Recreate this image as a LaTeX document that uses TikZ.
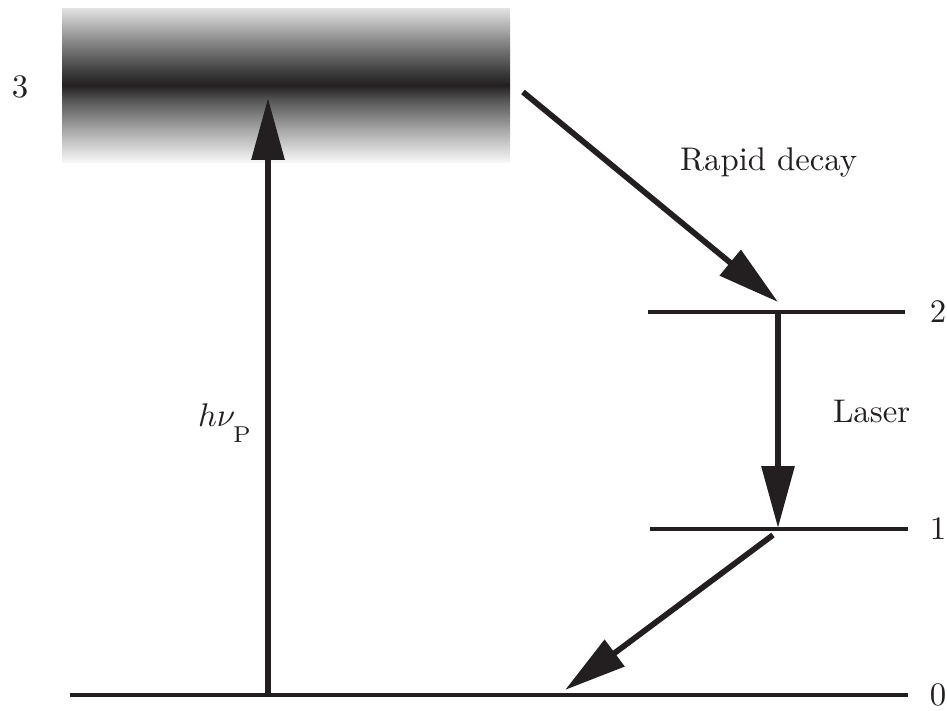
\documentclass[tikz,border=0pt]{standalone}
\usetikzlibrary{arrows.meta}
\definecolor{ink}{RGB}{35,31,32}
\pgfdeclareverticalshading{bandshade}{100bp}{%
  color(0bp)=(black!3);
  color(25bp)=(black!3);
  color(35bp)=(black!33);
  color(45bp)=(black!66);
  color(50bp)=(ink);
  color(55bp)=(black!74);
  color(65bp)=(black!44);
  color(75bp)=(black!11);
  color(100bp)=(black!11)}
\tikzset{
  level/.style={draw=ink, line width=1.05pt},
  trans/.style={draw=ink, line width=1.75pt,
    -{Triangle[length=18.9pt, width=9.8pt]}},
  lab/.style={inner sep=0pt, outer sep=0pt, text=ink, font=\normalsize}
}
\begin{document}
\begin{tikzpicture}[x=0.305pt, y=-0.305pt]
\useasboundingbox (0,0) rectangle (947,711);
% band of level 3
\shade[shading=bandshade] (62,8) rectangle (510,162);
% coordinates
\coordinate (l0a) at (70,695);  \coordinate (l0b) at (908,695);
\coordinate (l1a) at (650,529); \coordinate (l1b) at (908,529);
\coordinate (l2a) at (648,312); \coordinate (l2b) at (905,312);
\coordinate (pumpS) at (268,695); \coordinate (pumpE) at (268,98);
\coordinate (rapS) at (523,92);   \coordinate (rapE) at (778,302);
\coordinate (lasS) at (778,312);  \coordinate (lasE) at (778,528);
\coordinate (decS) at (773,535);  \coordinate (decE) at (565,690);
% levels
\draw[level] (l0a) -- (l0b);
\draw[level] (l1a) -- (l1b);
\draw[level] (l2a) -- (l2b);
% labels
\node[lab] (n3) at (20,87) {3};
\node[lab] (n2) at (938,312) {2};
\node[lab] (n1) at (938,529) {1};
\node[lab] (n0) at (938,695) {0};
\node[lab, anchor=base west] (rapid) at (680,170) {Rapid decay};
\node[lab, anchor=base west] (laser) at (833,422) {Laser};
\node[lab, anchor=base west] (hnu) at (198,426)
  {$h\nu_{\raisebox{-3.6pt}{$\scriptstyle\mathrm{P}$}}$};
% transitions
\draw[trans] (pumpS) -- (pumpE);
\draw[trans] (rapS) -- (rapE);
\draw[trans] (lasS) -- (lasE);
\draw[trans] (decS) -- (decE);
\end{tikzpicture}
\end{document}
